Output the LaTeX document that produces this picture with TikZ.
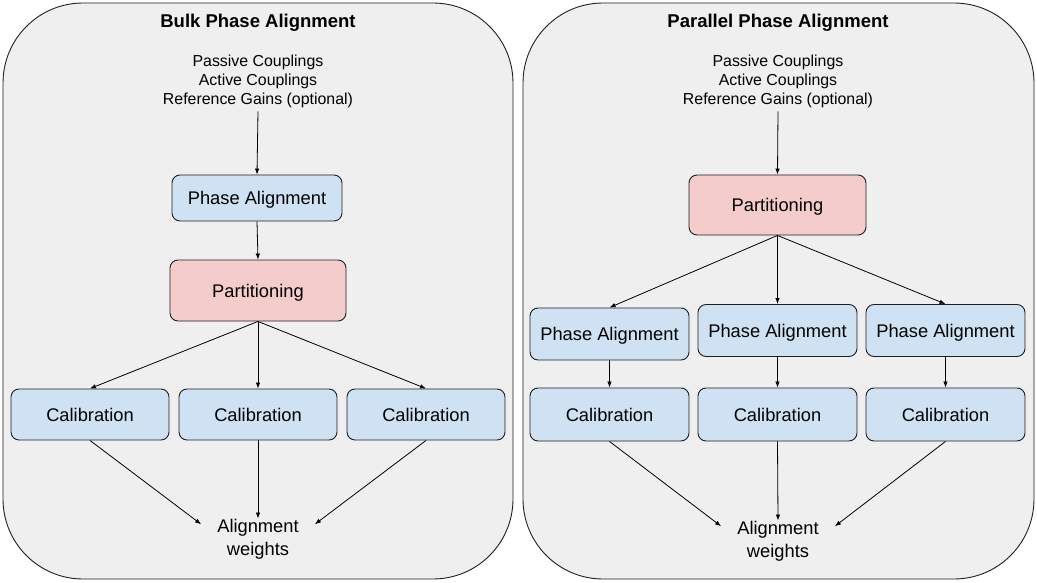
\documentclass[tikz,border=0pt]{standalone}
\usepackage{fontspec}
\setmainfont{Liberation Sans}
\usetikzlibrary{arrows.meta}
\definecolor{PanelGray}{HTML}{EFEFEF}
\definecolor{BoxBlue}{HTML}{CFE2F3}
\definecolor{BoxRed}{HTML}{F4CCCC}
\definecolor{EdgeGray}{HTML}{1F1F1F}

\begin{document}
\begin{tikzpicture}[x=1pt, y=-1pt,
    panel/.style={draw=EdgeGray, fill=PanelGray, rounded corners=80pt, line width=0.9pt},
    ttl/.style={font=\fontsize{18.5}{22}\selectfont\bfseries},
    inp/.style={align=center, font=\fontsize{15.9}{19}\selectfont},
    bluebox/.style={draw=EdgeGray, fill=BoxBlue, rounded corners=8pt, line width=0.9pt,
        inner sep=0pt, text height=13.5pt, text depth=0.5pt, font=\fontsize{18.3}{22}\selectfont},
    redbox/.style={bluebox, fill=BoxRed},
    wts/.style={align=center, inner xsep=16pt, inner ysep=1pt, font=\fontsize{18.3}{22.5}\selectfont},
    arr/.style={-{Latex[length=6pt,width=4.5pt]}, line width=0.8pt}]
    \useasboundingbox (0,0) rectangle (1037,583);

    % Panels
    \draw[panel] (3,3) rectangle (513,579);
    \draw[panel] (523,3) rectangle (1034,579);

    % Bulk phase alignment
    \node[ttl] (tL) at (258,23) {Bulk Phase Alignment};
    \node[inp] (inL) at (258,81.5) {Passive Couplings\\Active Couplings\\Reference Gains (optional)};
    \node[bluebox, minimum width=170pt, minimum height=46pt] (paL) at (257,198) {Phase Alignment};
    \node[redbox, minimum width=176pt, minimum height=61pt] (partL) at (258,290.5) {Partitioning};
    \node[wts] (wL) at (258,539.5) {Alignment\\weights};
    \draw[arr] (inL.south) -- (paL.north);
    \draw[arr] (paL.south) -- (partL.north);
    \foreach \n/\x in {1/90,2/258,3/426} {
        \node[bluebox, minimum width=158pt, minimum height=51pt] (calL\n) at (\x,414.5) {Calibration};
        \draw[arr] (partL.south) -- (calL\n.north);
    }
    \draw[arr] (calL1.south) -- (wL.165);
    \draw[arr] (calL2.south) -- (wL.north);
    \draw[arr] (calL3.south) -- (wL.15);

    % Parallel phase alignment
    \node[ttl] (tR) at (778,23) {Parallel Phase Alignment};
    \node[inp] (inR) at (778,81.5) {Passive Couplings\\Active Couplings\\Reference Gains (optional)};
    \node[redbox, minimum width=177pt, minimum height=60pt] (partR) at (777.5,205) {Partitioning};
    \node[wts] (wR) at (778,541.5) {Alignment\\weights};
    \draw[arr] (inR.south) -- (partR.north);
    \foreach \n/\x/\y in {1/609.5/334,2/777.5/330.5,3/945.5/330.5} {
        \node[bluebox, minimum width=159pt, minimum height=52pt] (paR\n) at (\x,\y) {Phase Alignment};
        \node[bluebox, minimum width=159pt, minimum height=53pt] (calR\n) at (\x,414.5) {Calibration};
        \draw[arr] (partR.south) -- (paR\n.north);
        \draw[arr] (paR\n.south) -- (calR\n.north);
    }
    \draw[arr] (calR1.south) -- (wR.165);
    \draw[arr] (calR2.south) -- (wR.north);
    \draw[arr] (calR3.south) -- (wR.15);
\end{tikzpicture}
\end{document}
